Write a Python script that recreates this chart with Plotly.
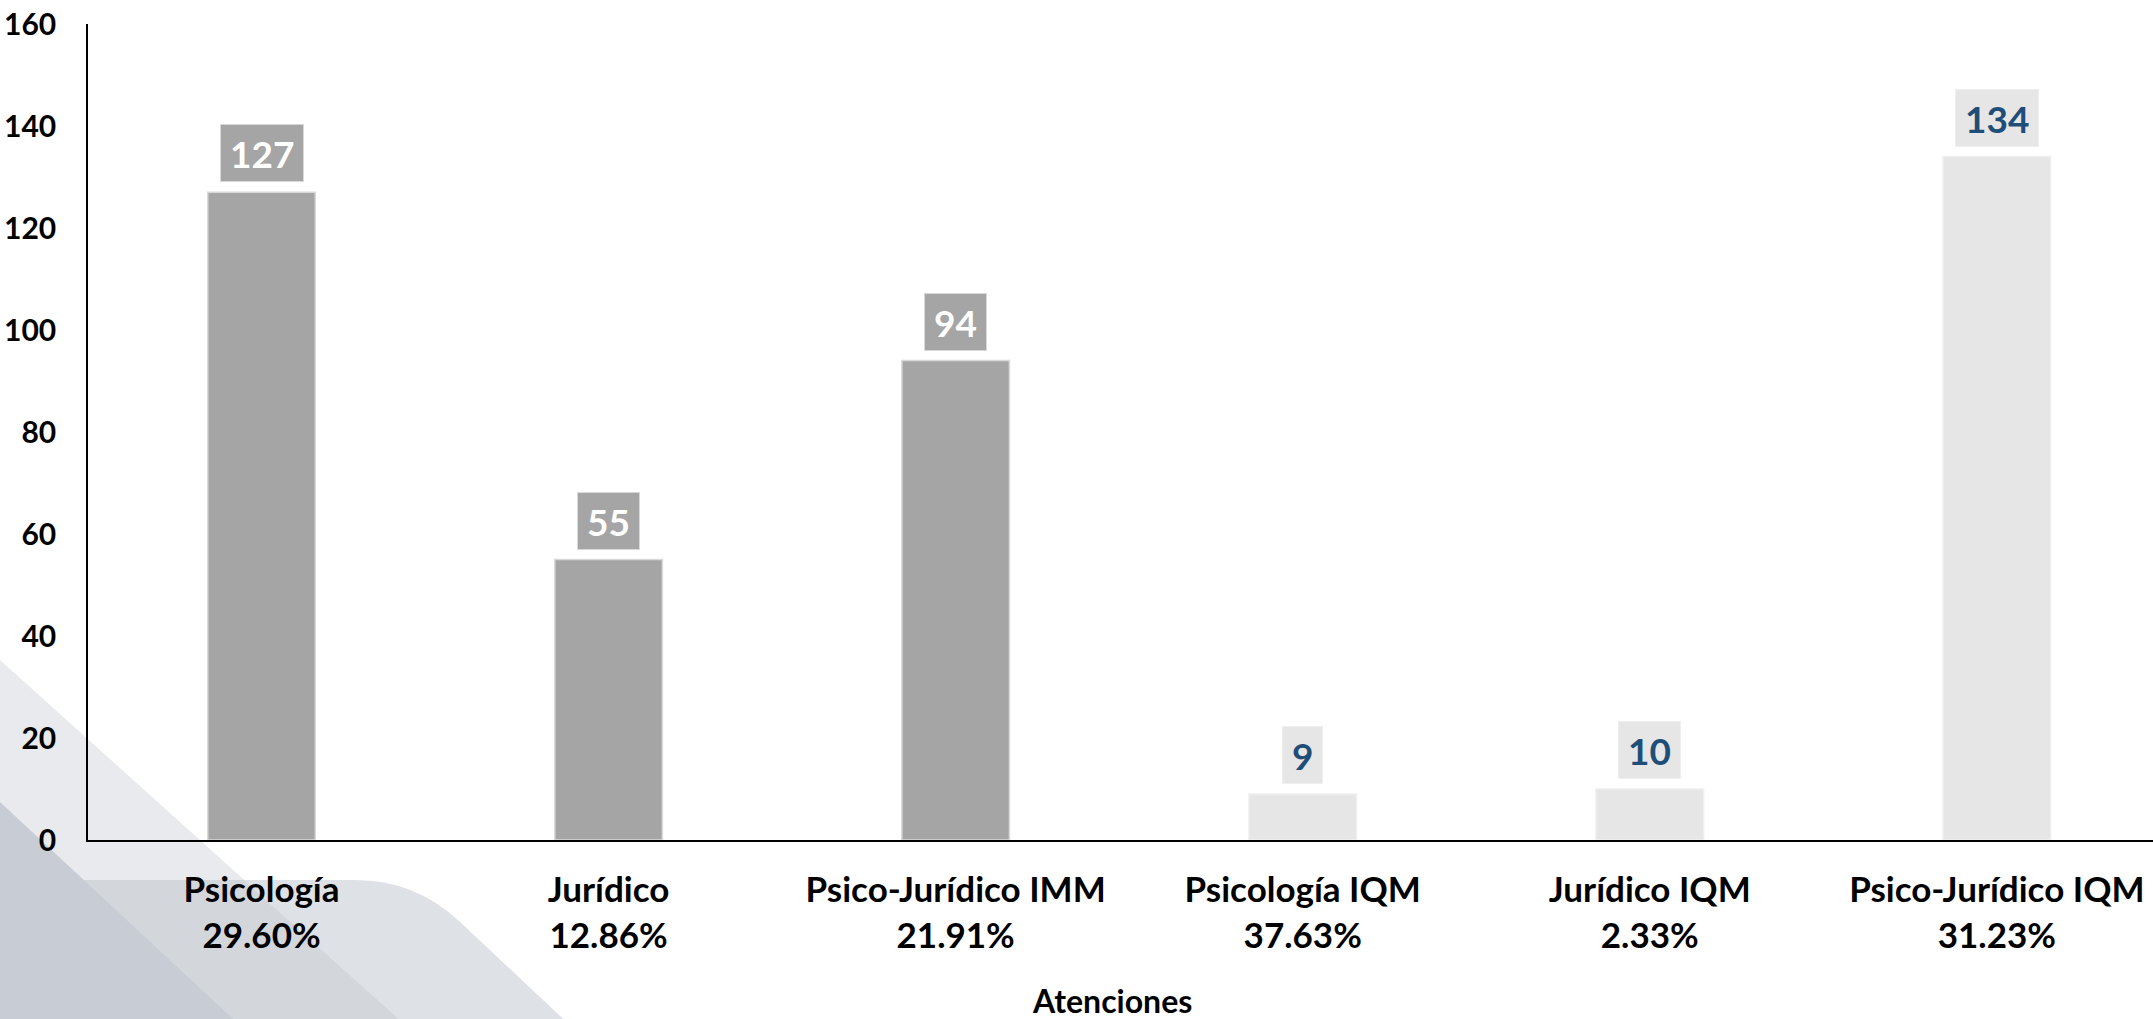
import plotly.graph_objects as go

categories = ["Psicología", "Jurídico", "Psico-Jurídico IMM", "Psicología IQM", "Jurídico IQM", "Psico-Jurídico IQM"]
percentages = ["29.60%", "12.86%", "21.91%", "37.63%", "2.33%", "31.23%"]
values = [127, 55, 94, 9, 10, 134]
bar_colors = ["#A5A5A5", "#A5A5A5", "#A5A5A5", "#E7E6E6", "#E7E6E6", "#E7E6E6"]
line_colors = ["#D9D9D9", "#D9D9D9", "#D9D9D9", "#EFEFEF", "#EFEFEF", "#EFEFEF"]
label_colors = ["#FFFFFF", "#FFFFFF", "#FFFFFF", "#1F4E79", "#1F4E79", "#1F4E79"]
y_ticks = [0, 20, 40, 60, 80, 100, 120, 140, 160]
x_title = "Atenciones"

W, H = 2153, 1019
L, R, T, B = 88, 0, 24, 179
FONT = "Lato"

xpos = list(range(len(categories)))
ticktext = [f"<b>{c}</b><br><b>{p}</b>" for c, p in zip(categories, percentages)]

fig = go.Figure()
fig.add_trace(go.Bar(
    x=xpos, y=values, width=0.31,
    marker=dict(color=bar_colors, line=dict(color=line_colors, width=1.5)),
    hoverinfo="skip",
))

for xi, v, bc, lc, tc in zip(xpos, values, bar_colors, line_colors, label_colors):
    fig.add_annotation(
        x=xi, y=v, xref="x", yref="y", text=f"<b>{v}</b>", showarrow=False,
        yanchor="bottom", yshift=10, bgcolor=bc, bordercolor=lc, borderwidth=1,
        borderpad=9, height=38, font=dict(family=FONT, size=37, color=tc),
    )

pw, ph = W - L - R, H - T - B
def P(x, y):
    return (x - L) / pw, (H - B - y) / ph

def path(points):
    s = ""
    for i, item in enumerate(points):
        if item[0] == "Q":
            c = P(*item[1]); e = P(*item[2])
            s += f" Q {c[0]:.5f},{c[1]:.5f} {e[0]:.5f},{e[1]:.5f}"
        else:
            p = P(*item)
            s += (" M " if i == 0 else " L ") + f"{p[0]:.5f},{p[1]:.5f}"
    return s + " Z"

bg_shapes = [
    ([(0, 880), (355, 880), ("Q", (415, 880), (459, 921)), (575, 1030), (0, 1030)], "#DEE1E5"),
    ([(0, 660), (411, 1030), (0, 1030)], "#E9EAED"),
    ([(0, 880), (244, 880), (411, 1030), (0, 1030)], "#D3D7DC"),
    ([(0, 802), (245, 1030), (0, 1030)], "#C8CDD5"),
]
for pts, col in bg_shapes:
    fig.add_shape(type="path", path=path(pts), xref="paper", yref="paper",
                  fillcolor=col, line=dict(width=0), layer="below")

tx, ty = P(1112, 1000)
fig.add_annotation(x=tx, y=ty, xref="paper", yref="paper", text=f"<b>{x_title}</b>",
                   showarrow=False, xanchor="center", yanchor="middle",
                   font=dict(family=FONT, size=32, color="black"))

fig.update_layout(
    width=W, height=H, autosize=False,
    margin=dict(l=L, r=R, t=T, b=B),
    paper_bgcolor="white", plot_bgcolor="rgba(0,0,0,0)",
    showlegend=False,
    font=dict(family=FONT, color="black"),
    xaxis=dict(
        range=[-0.5, 5.45], tickmode="array", tickvals=xpos, ticktext=ticktext,
        tickfont=dict(family=FONT, size=35, color="black"),
        showline=True, linecolor="black", linewidth=2, showgrid=False,
        zeroline=False, ticks="", ticklabelstandoff=18, automargin=False,
    ),
    yaxis=dict(
        range=[0, 160], tickmode="array", tickvals=y_ticks,
        ticktext=[f"<b>{t}</b>" for t in y_ticks],
        tickfont=dict(family=FONT, size=30, color="black"),
        showline=True, linecolor="black", linewidth=1.5, showgrid=False,
        zeroline=False, ticks="", ticklabelstandoff=24, automargin=False,
    ),
)

fig.write_html("out.html", config={"displayModeBar": False},
               post_script="document.body.style.margin='0';document.body.style.overflow='hidden';")
